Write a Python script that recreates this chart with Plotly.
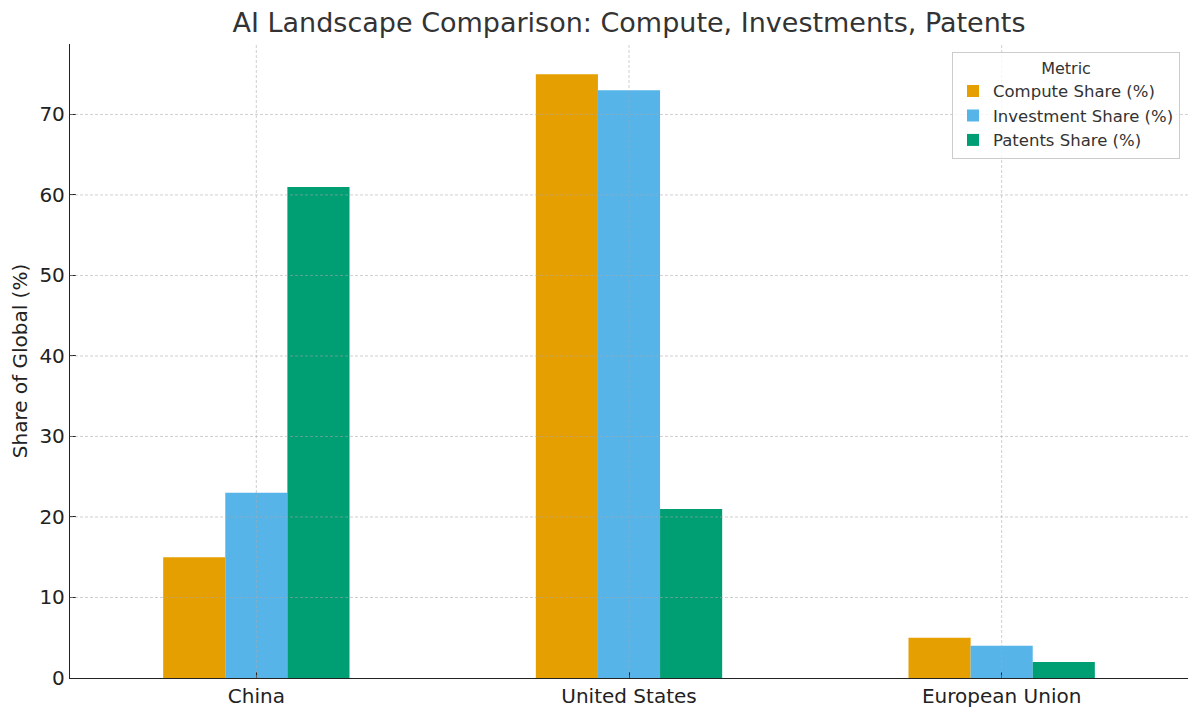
import plotly.graph_objects as go

regions = ["China", "United States", "European Union"]
compute_share = [15, 75, 5]
investment_share = [23, 73, 4]
patents_share = [61, 21, 2]
series_names = ["Compute Share (%)", "Investment Share (%)", "Patents Share (%)"]
colors = ["#E69F00", "#56B4E9", "#009E73"]
y_ticks = [0, 10, 20, 30, 40, 50, 60, 70]

FONT = "DejaVu Sans"
fig = go.Figure()
for name, vals, c in zip(series_names, [compute_share, investment_share, patents_share], colors):
    fig.add_trace(go.Bar(x=regions, y=vals, name=name, marker=dict(color=c, line=dict(width=0))))

# grid lines drawn above bars (as in reference)
grid = dict(color="rgba(170,170,170,0.55)", width=1, dash="3px,2px")
for t in y_ticks[1:]:
    fig.add_shape(type="line", xref="paper", x0=0, x1=1, yref="y", y0=t, y1=t, line=grid, layer="above")
for r in regions:
    fig.add_shape(type="line", xref="x", x0=r, x1=r, yref="paper", y0=0, y1=1, line=grid, layer="above")

fig.update_layout(
    width=1192, height=708,
    barmode="group", bargap=0.5, bargroupgap=0,
    paper_bgcolor="white", plot_bgcolor="white",
    margin=dict(l=62, r=12, t=36, b=38),
    font=dict(family=FONT, color="#222", size=19),
    title=dict(text="AI Landscape Comparison: Compute, Investments, Patents",
               x=0.5, xref="paper", xanchor="center", y=1 - 15 / 708, yref="container", yanchor="middle",
               font=dict(size=27, color="#333")),
    legend=dict(
        title=dict(text="Metric", side="top center", font=dict(size=16, color="#333")),
        font=dict(size=16.5, color="#333"),
        x=1 - 8 / 1118, y=1 - 8 / 634, xanchor="right", yanchor="top",
        bordercolor="#cccccc", borderwidth=1, bgcolor="rgba(255,255,255,0.8)",
        itemsizing="constant", tracegroupgap=0,
    ),
    xaxis=dict(
        range=[-0.5, 2.5], showgrid=False, showline=True, linecolor="#222", linewidth=1.3,
        ticks="inside", ticklen=6, tickcolor="#222", tickfont=dict(size=20, color="#222"),
        zeroline=False, mirror=False, automargin=False, ticklabelstandoff=0,
    ),
    yaxis=dict(
        range=[0, 78.75], tickvals=y_ticks, showgrid=False, showline=True, linecolor="#222", linewidth=1.3,
        ticks="inside", ticklen=6, tickcolor="#222", tickfont=dict(size=20, color="#222"),
        zeroline=False, automargin=False,
        title=dict(text="Share of Global (%)", font=dict(size=20, color="#222"), standoff=8),
    ),
)

fig.write_html("out.html")
